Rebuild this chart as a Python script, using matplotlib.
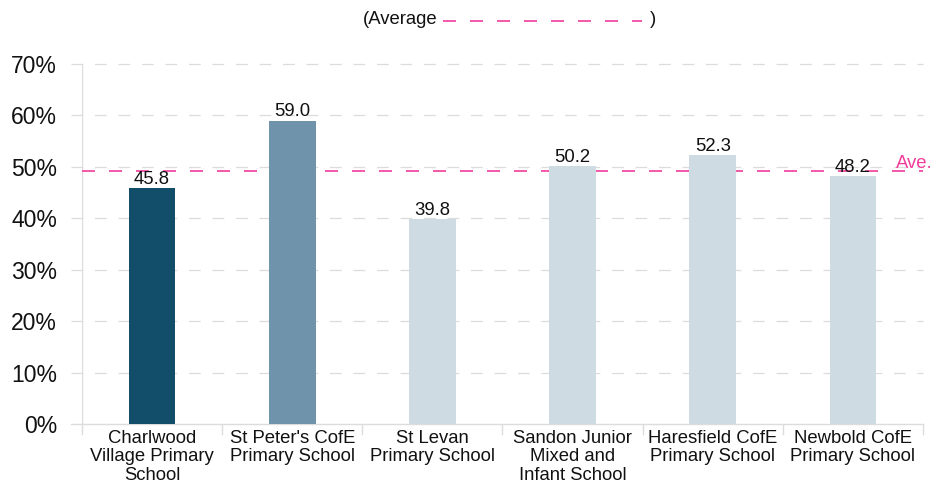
import matplotlib.pyplot as plt
from matplotlib.lines import Line2D

plt.rcParams["font.family"] = ["Liberation Sans", "DejaVu Sans"]

schools = [
    "Charlwood\nVillage Primary\nSchool",
    "St Peter's CofE\nPrimary School",
    "St Levan\nPrimary School",
    "Sandon Junior\nMixed and\nInfant School",
    "Haresfield CofE\nPrimary School",
    "Newbold CofE\nPrimary School",
]
values = [45.8, 59.0, 39.8, 50.2, 52.3, 48.2]
bar_colors = ["#124e6a", "#7093ac", "#cfdbe2", "#cfdbe2", "#cfdbe2", "#cfdbe2"]
average = 49.2
y_ticks = [0, 10, 20, 30, 40, 50, 60, 70]

PINK = "#f23c9b"
GRID = "#dcdcdc"

fig = plt.figure(figsize=(9.33, 4.84), dpi=100)
ax = fig.add_axes([82 / 933, 60 / 484, 841 / 933, 360 / 484])

x = list(range(len(values)))
bars = ax.bar(x, values, width=1 / 3, color=bar_colors, zorder=3)
for rect, v in zip(bars, values):
    ax.text(rect.get_x() + rect.get_width() / 2, v + 0.8, f"{v:.1f}",
            ha="center", va="baseline", fontsize=13.3, color="#111111", zorder=4)

ax.set_xlim(-0.5, len(values) - 0.5)
ax.set_ylim(0, 70)
ax.set_yticks(y_ticks)
ax.set_yticklabels([f"{t}%" for t in y_ticks], fontsize=16.5, color="#111111")
ax.tick_params(axis="y", length=0, pad=18)

# gridlines extend a little left of the axis
for t in y_ticks[1:]:
    ax.add_line(Line2D([-0.58, len(values) - 0.5], [t, t], color=GRID, lw=0.9,
                       linestyle=(0, (9.4, 9.4)), clip_on=False, zorder=1))
ax.add_line(Line2D([-0.58, len(values) - 0.5], [0, 0], color=GRID, lw=1.0,
                   clip_on=False, zorder=1))

# average line
ax.axhline(average, color=PINK, lw=1.2, linestyle=(0, (7.8, 8.4)), zorder=2)
ax.text(len(values) - 0.5 - 0.19, average + 0.6, "Ave.", color=PINK, fontsize=13.3,
        ha="left", va="baseline", zorder=5)

# category labels and separators
ax.set_xticks(x)
ax.set_xticklabels(schools, fontsize=13.3, color="#111111", linespacing=1.12)
ax.tick_params(axis="x", length=0, pad=4)
for b in [i - 0.5 for i in range(len(values) + 1)]:
    ax.add_line(Line2D([b, b], [0, -2.0], color=GRID, lw=1.0, clip_on=False))
ax.add_line(Line2D([-0.5, -0.5], [0, 70], color=GRID, lw=1.0, zorder=1))

for s in ax.spines.values():
    s.set_visible(False)

# top legend
fig.text(437 / 933, 1 - 20 / 484, "(Average", fontsize=13.3, ha="right",
         va="center", color="#111111")
fig.add_artist(Line2D([443 / 933, 642 / 933], [1 - 21 / 484, 1 - 21 / 484],
                      color=PINK, lw=1.2, linestyle=(0, (7.8, 8.4))))
fig.text(650 / 933, 1 - 20 / 484, ")", fontsize=13.3, ha="left", va="center",
         color="#111111")

fig.savefig("out.png", dpi=100)
